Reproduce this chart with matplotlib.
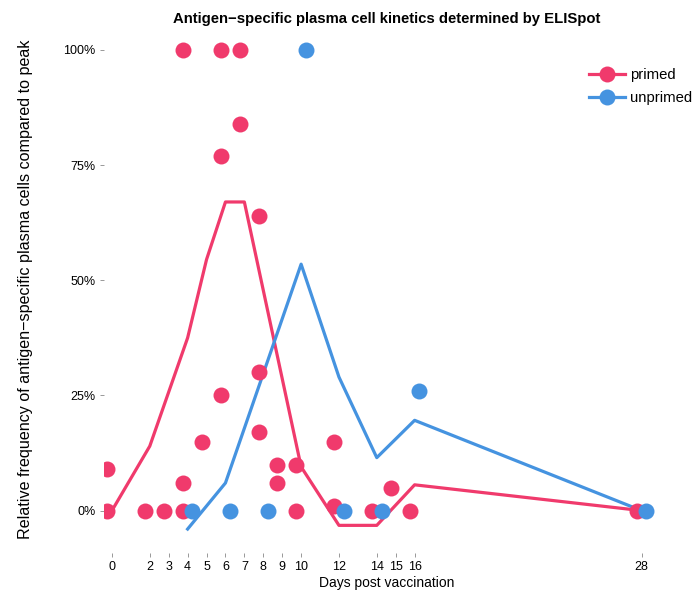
import matplotlib
matplotlib.use('Agg')
import matplotlib.pyplot as plt
from matplotlib.ticker import FuncFormatter
from matplotlib.lines import Line2D

plt.rcParams['font.family'] = ['Liberation Sans', 'DejaVu Sans']

# measured points (day, % of peak)
primed_days = [0, 0, 2, 3, 4, 4, 4, 5, 6, 6, 6, 7, 7, 8, 8, 8, 9, 9, 10, 10, 12, 12, 14, 15, 16, 28]
primed_pct = [9, 0, 0, 0, 0, 6, 100, 15, 100, 77, 25, 100, 84, 64, 30, 17, 10, 6, 10, 0, 15, 1, 0, 5, 0, 0]

unprimed_days = [4, 6, 8, 10, 12, 14, 16, 28]
unprimed_pct = [0, 0, 0, 100, 0, 0, 26, 0]

# fitted trend lines
primed_fit_days = [0, 2, 4, 5, 6, 7, 10, 12, 14, 16, 28]
primed_fit_pct = [0, 14, 37.5, 54.5, 67, 67, 9.5, -3.2, -3.2, 5.6, 0]

unprimed_fit_days = [4, 6, 10, 12, 14, 16, 28]
unprimed_fit_pct = [-4, 6, 53.5, 29, 11.5, 19.6, 0]

xticks = [0, 2, 3, 4, 5, 6, 7, 8, 9, 10, 12, 14, 15, 16, 28]
yticks = [0, 25, 50, 75, 100]

pink = '#F03A6C'
blue = '#4593E0'
dodge = 0.25

fig = plt.figure(figsize=(7, 6.03), dpi=100)
ax = fig.add_axes([104 / 700, 1 - 553 / 603, (670 - 104) / 700, (553 - 26) / 603])

ax.plot(primed_fit_days, primed_fit_pct, color=pink, lw=2.3, zorder=2)
ax.plot(unprimed_fit_days, unprimed_fit_pct, color=blue, lw=2.3, zorder=2)
ax.plot([d - dodge for d in primed_days], primed_pct, 'o', color=pink, ms=11.5, mew=0, zorder=3)
ax.plot([d + dodge for d in unprimed_days], unprimed_pct, 'o', color=blue, ms=11.5, mew=0, zorder=4)

ax.set_xlim(-0.42, 29.5)
ax.set_ylim(-9.2, 105.2)
ax.set_xticks(xticks)
ax.set_yticks(yticks)
ax.yaxis.set_major_formatter(FuncFormatter(lambda v, p: f'{int(v)}%'))
ax.tick_params(length=3, width=0.6, color='#888888', labelsize=9, pad=3)
for s in ax.spines.values():
    s.set_visible(False)

ax.set_title('Antigen\u2212specific plasma cell kinetics determined by ELISpot',
             fontsize=10.7, fontweight='bold', pad=2)
ax.set_xlabel('Days post vaccination', fontsize=10, labelpad=2)
ax.set_ylabel('Relative frequency of antigen\u2212specific plasma cells compared to peak',
              fontsize=11.6, labelpad=22)

handles = [Line2D([], [], color=pink, lw=2.3, marker='o', ms=11.5, mew=0),
           Line2D([], [], color=blue, lw=2.3, marker='o', ms=11.5, mew=0)]
fig.legend(handles, ['primed', 'unprimed'], loc='upper left',
           bbox_to_anchor=(576 / 700, 1 - 55 / 603), frameon=False, fontsize=10.7,
           handlelength=2.4, handletextpad=0.35, labelspacing=0.6)

fig.savefig('out.png', dpi=100)
